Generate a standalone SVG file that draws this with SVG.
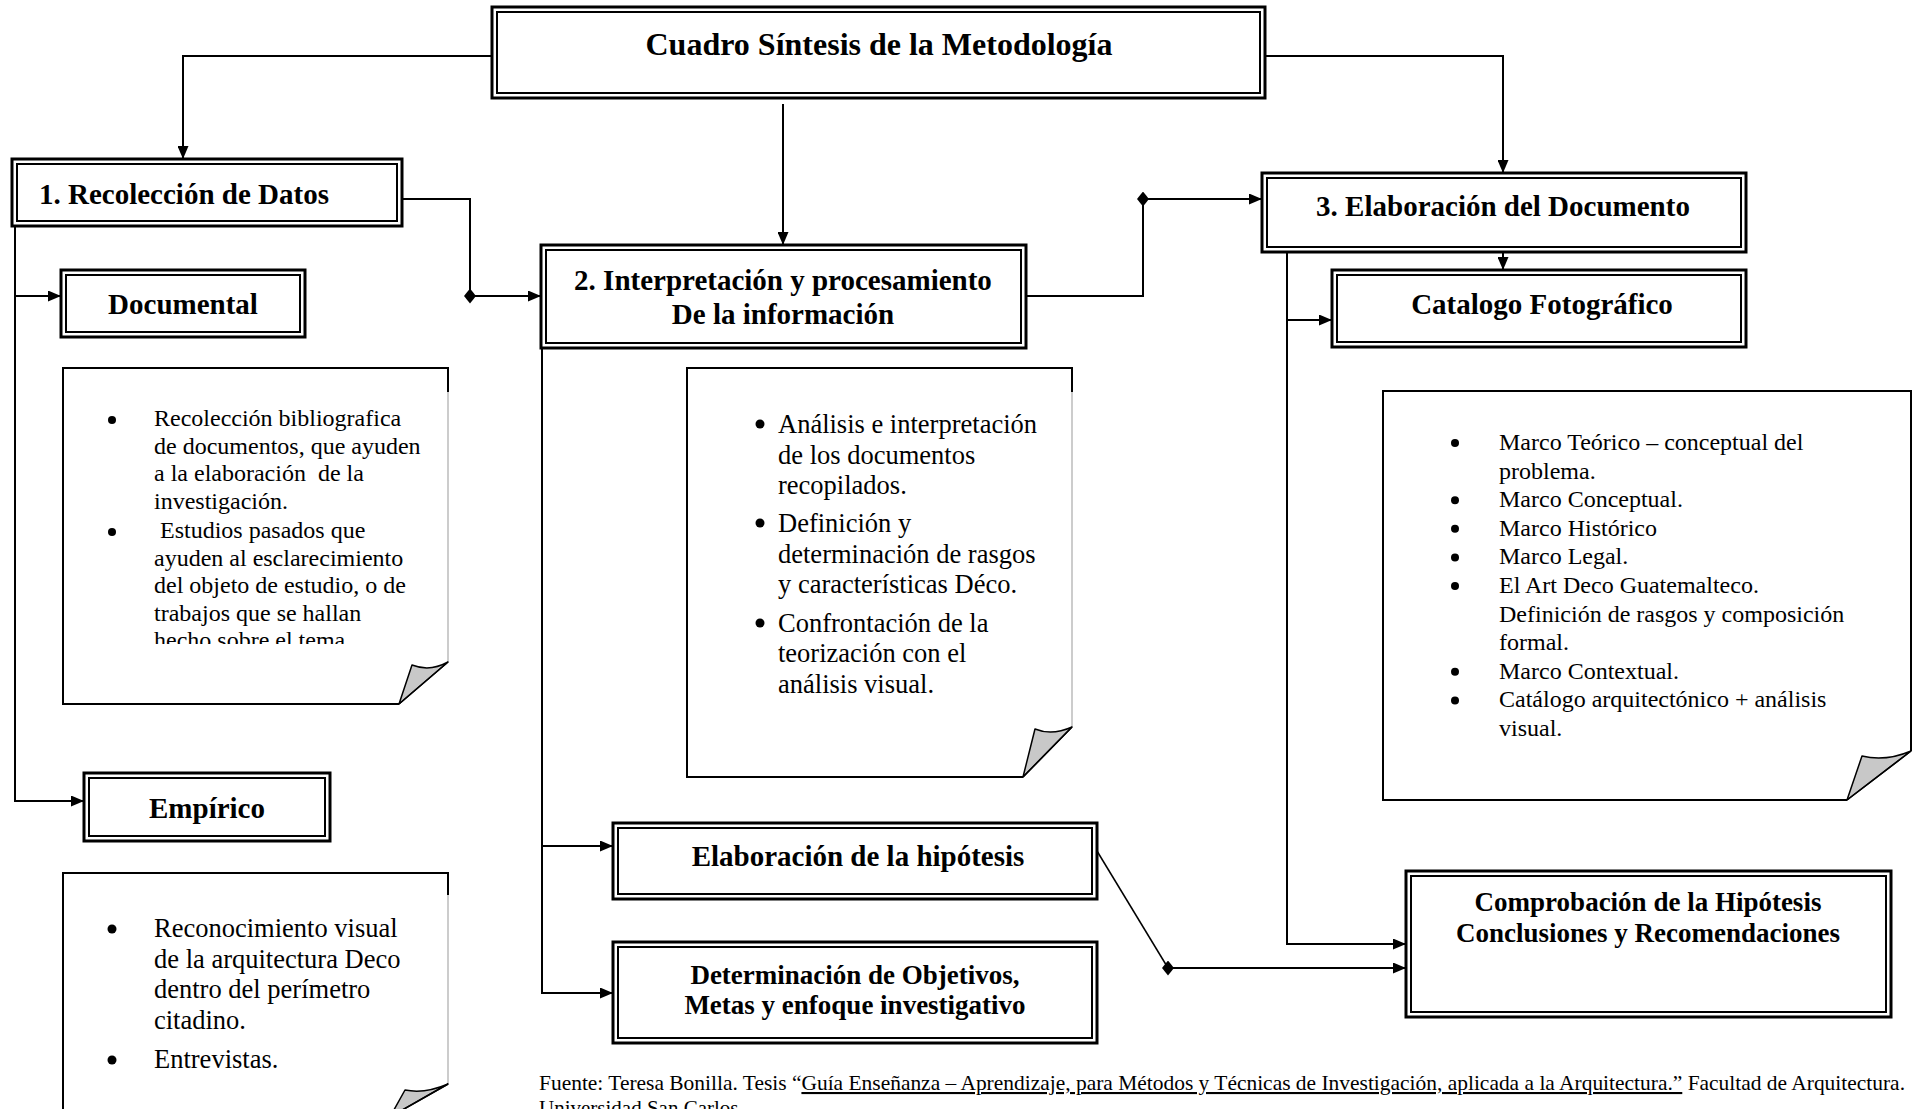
<svg xmlns="http://www.w3.org/2000/svg" width="1915" height="1109" viewBox="0 0 1915 1109">
<style>
.bg{fill:#fff}
.o{fill:#fff;stroke:#000;stroke-width:3}
.i{fill:none;stroke:#000;stroke-width:2}
.lb{font-family:"Liberation Serif","Times New Roman",serif;font-weight:bold;font-size:29px;fill:#000;text-anchor:middle}
.tx{font-family:"Liberation Serif","Times New Roman",serif;font-size:24px;fill:#000;white-space:pre}
.tx2{font-family:"Liberation Serif","Times New Roman",serif;font-size:26.5px;fill:#000;white-space:pre}
.bul{fill:#000}
.c{fill:none;stroke:#000;stroke-width:2}
.nb{fill:none;stroke:#000;stroke-width:2}
.ng{fill:none;stroke:#999;stroke-width:1}
.nf{fill:#fff;stroke:none}
.fold{fill:#c8c8c8;stroke:#000;stroke-width:1.5;stroke-linejoin:round}
.ft{font-family:"Liberation Serif","Times New Roman",serif;font-size:21px;fill:#000}
</style>
<defs>
<marker id="arr" viewBox="0 0 13 11" refX="13" refY="5.5" markerWidth="13" markerHeight="11" orient="auto" markerUnits="userSpaceOnUse"><path d="M0,0 L13,5.5 L0,11 z" fill="#000"/></marker>
<marker id="dia" viewBox="0 0 12 15" refX="6" refY="7.5" markerWidth="12" markerHeight="15" orient="0" markerUnits="userSpaceOnUse"><path d="M0,7.5 L6,0 L12,7.5 L6,15 z" fill="#000"/></marker>
<clipPath id="clip1"><rect x="60" y="360" width="400" height="284"/></clipPath>
</defs>
<rect class="bg" x="0" y="0" width="1915" height="1109"/>

<g id="connectors">
<path class="c" d="M492,56 H183 V159" marker-end="url(#arr)"/>
<path class="c" d="M1265,56 H1503 V173" marker-end="url(#arr)"/>
<path class="c" d="M783,104 V245" marker-end="url(#arr)"/>
<path class="c" d="M402,199 H470 V296"/>
<path class="c" d="M470,296 H541" marker-start="url(#dia)" marker-end="url(#arr)"/>
<path class="c" d="M1026,296 H1143 V199"/>
<path class="c" d="M1143,199 H1262" marker-start="url(#dia)" marker-end="url(#arr)"/>
<path class="c" d="M15,226 V801 H84" marker-end="url(#arr)"/>
<path class="c" d="M15,296 H61" marker-end="url(#arr)"/>
<path class="c" d="M1503,252 V270" marker-end="url(#arr)"/>
<path class="c" d="M1287,252 V944 H1406" marker-end="url(#arr)"/>
<path class="c" d="M1287,320 H1332" marker-end="url(#arr)"/>
<path class="c" d="M542,348 V993 H613" marker-end="url(#arr)"/>
<path class="c" d="M542,846 H613" marker-end="url(#arr)"/>
<path class="c" style="stroke-width:1.5" d="M1097,851 L1168,968"/>
<path class="c" d="M1168,968 H1406" marker-start="url(#dia)" marker-end="url(#arr)"/>
</g>

<g id="title">
<rect class="o" x="492" y="7" width="773" height="91"/>
<rect class="i" x="497" y="12" width="763" height="81"/>
<text class="lb" x="879" y="55" style="font-size:32px">Cuadro Síntesis de la Metodología</text>
</g>

<g id="recoleccion">
<rect class="o" x="12" y="159" width="390" height="67"/>
<rect class="i" x="17" y="164" width="380" height="57"/>
<text class="lb" x="39" y="204" style="text-anchor:start">1. Recolección de Datos</text>
</g>

<g id="documental">
<rect class="o" x="61" y="270" width="244" height="67"/>
<rect class="i" x="66" y="275" width="234" height="57"/>
<text class="lb" x="183" y="314">Documental</text>
</g>

<g id="nota-documental">
<path class="nf" d="M63,368 H448 V662 L399,704 H63 Z"/>
<path class="nb" d="M448,392 V368 H63 V704 H399"/>
<path class="ng" d="M448,392 V662"/>
<path class="fold" d="M399,704 L412,665 Q430,672 448,662 Z"/>
<path class="nb" style="stroke-width:1.5" d="M399,704 L448,662"/>
<circle class="bul" cx="112" cy="420" r="4"/>
<circle class="bul" cx="112" cy="532" r="4"/>
<g clip-path="url(#clip1)">
<text class="tx" x="154" y="426">Recolección bibliografica</text>
<text class="tx" x="154" y="453.5">de documentos, que ayuden</text>
<text class="tx" x="154" y="481">a la elaboración  de la</text>
<text class="tx" x="154" y="508.5">investigación.</text>
<text class="tx" x="154" y="538"> Estudios pasados que</text>
<text class="tx" x="154" y="565.5">ayuden al esclarecimiento</text>
<text class="tx" x="154" y="593">del objeto de estudio, o de</text>
<text class="tx" x="154" y="620.5">trabajos que se hallan</text>
<text class="tx" x="154" y="648">hecho sobre el tema.</text>
</g>
</g>

<g id="empirico">
<rect class="o" x="84" y="773" width="246" height="68"/>
<rect class="i" x="89" y="778" width="236" height="58"/>
<text class="lb" x="207" y="818">Empírico</text>
</g>

<g id="nota-empirico">
<path class="nf" d="M63,873 H448 V1084 L390,1117 V1130 H63 Z"/>
<path class="nb" d="M448,895 V873 H63 V1130"/>
<path class="ng" d="M448,895 V1084"/>
<path class="fold" d="M390,1117 L405,1090 Q425,1094 448,1084 Z"/>
<path class="nb" style="stroke-width:1.5" d="M390,1117 L448,1084"/>
<circle class="bul" cx="112" cy="929" r="4.5"/>
<circle class="bul" cx="112" cy="1060" r="4.5"/>
<text class="tx2" x="154" y="937">Reconocimiento visual</text>
<text class="tx2" x="154" y="968">de la arquitectura Deco</text>
<text class="tx2" x="154" y="998">dentro del perímetro</text>
<text class="tx2" x="154" y="1029">citadino.</text>
<text class="tx2" x="154" y="1068">Entrevistas.</text>
</g>

<g id="interpretacion">
<rect class="o" x="541" y="245" width="485" height="103"/>
<rect class="i" x="546" y="250" width="475" height="93"/>
<text class="lb" x="783" y="290">2. Interpretación y procesamiento</text>
<text class="lb" x="783" y="324">De la información</text>
</g>

<g id="nota-interpretacion">
<path class="nf" d="M687,368 H1072 V727 L1023,777 H687 Z"/>
<path class="nb" d="M1072,392 V368 H687 V777 H1023"/>
<path class="ng" d="M1072,392 V727"/>
<path class="fold" d="M1023,777 L1035,729 Q1052,736 1072,727 Z"/>
<path class="nb" style="stroke-width:1.5" d="M1023,777 L1072,727"/>
<circle class="bul" cx="760" cy="424" r="4.5"/>
<circle class="bul" cx="760" cy="523" r="4.5"/>
<circle class="bul" cx="760" cy="623" r="4.5"/>
<text class="tx2" x="778" y="433">Análisis e interpretación</text>
<text class="tx2" x="778" y="464">de los documentos</text>
<text class="tx2" x="778" y="494">recopilados.</text>
<text class="tx2" x="778" y="532">Definición y</text>
<text class="tx2" x="778" y="563">determinación de rasgos</text>
<text class="tx2" x="778" y="593">y características Déco.</text>
<text class="tx2" x="778" y="632">Confrontación de la</text>
<text class="tx2" x="778" y="662">teorización con el</text>
<text class="tx2" x="778" y="693">análisis visual.</text>
</g>

<g id="hipotesis">
<rect class="o" x="613" y="823" width="484" height="76"/>
<rect class="i" x="618" y="828" width="474" height="66"/>
<text class="lb" x="858" y="866">Elaboración de la hipótesis</text>
</g>

<g id="objetivos">
<rect class="o" x="613" y="942" width="484" height="101"/>
<rect class="i" x="618" y="947" width="474" height="91"/>
<text class="lb" x="855" y="984" style="font-size:27px">Determinación de Objetivos,</text>
<text class="lb" x="855" y="1014" style="font-size:27px">Metas y enfoque investigativo</text>
</g>

<g id="documento">
<rect class="o" x="1262" y="173" width="484" height="79"/>
<rect class="i" x="1267" y="178" width="474" height="69"/>
<text class="lb" x="1503" y="216">3. Elaboración del Documento</text>
</g>

<g id="catalogo">
<rect class="o" x="1332" y="270" width="414" height="77"/>
<rect class="i" x="1337" y="275" width="404" height="67"/>
<text class="lb" x="1542" y="314">Catalogo Fotográfico</text>
</g>

<g id="nota-documento">
<path class="nf" d="M1383,391 H1911 V751 L1847,800 H1383 Z"/>
<path class="nb" d="M1911,751 V391 H1383 V800 H1847"/>
<path class="fold" d="M1847,800 L1862,756 Q1885,762 1911,751 Z"/>
<path class="nb" style="stroke-width:1.5" d="M1847,800 L1911,751"/>
<circle class="bul" cx="1455" cy="443" r="4"/>
<circle class="bul" cx="1455" cy="500.2" r="4"/>
<circle class="bul" cx="1455" cy="528.8" r="4"/>
<circle class="bul" cx="1455" cy="557.4" r="4"/>
<circle class="bul" cx="1455" cy="586" r="4"/>
<circle class="bul" cx="1455" cy="671.8" r="4"/>
<circle class="bul" cx="1455" cy="700.4" r="4"/>
<text class="tx" x="1499" y="450">Marco Teórico – conceptual del</text>
<text class="tx" x="1499" y="478.6">problema.</text>
<text class="tx" x="1499" y="507.2">Marco Conceptual.</text>
<text class="tx" x="1499" y="535.8">Marco Histórico</text>
<text class="tx" x="1499" y="564.4">Marco Legal.</text>
<text class="tx" x="1499" y="593">El Art Deco Guatemalteco.</text>
<text class="tx" x="1499" y="621.6">Definición de rasgos y composición</text>
<text class="tx" x="1499" y="650.2">formal.</text>
<text class="tx" x="1499" y="678.8">Marco Contextual.</text>
<text class="tx" x="1499" y="707.4">Catálogo arquitectónico + análisis</text>
<text class="tx" x="1499" y="736">visual.</text>
</g>

<g id="comprobacion">
<rect class="o" x="1406" y="871" width="485" height="146"/>
<rect class="i" x="1411" y="876" width="475" height="136"/>
<text class="lb" x="1648" y="911" style="font-size:27px">Comprobación de la Hipótesis</text>
<text class="lb" x="1648" y="942" style="font-size:27px">Conclusiones y Recomendaciones</text>
</g>

<g id="fuente">
<text class="ft" x="539" y="1090" textLength="1366" lengthAdjust="spacingAndGlyphs">Fuente: Teresa Bonilla. Tesis “<tspan text-decoration="underline">Guía Enseñanza – Aprendizaje, para Métodos y Técnicas de Investigación, aplicada a la Arquitectura.”</tspan> Facultad de Arquitectura.</text>
<text class="ft" x="539" y="1115">Universidad San Carlos.</text>
</g>
</svg>
